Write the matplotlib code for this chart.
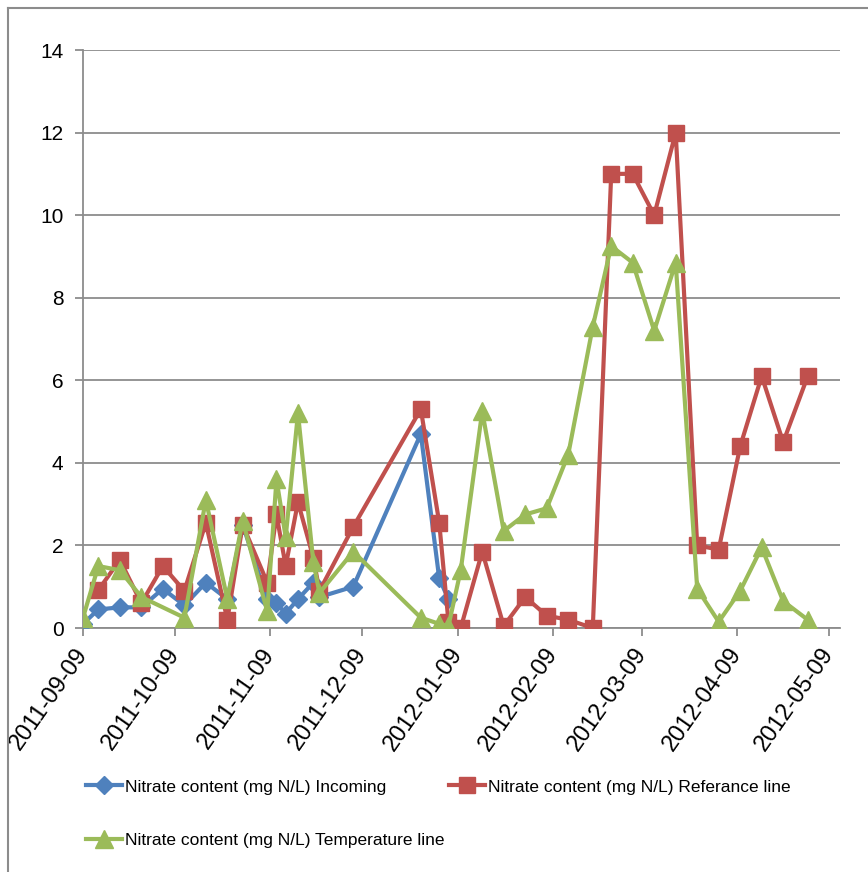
import matplotlib
matplotlib.use("Agg")
import matplotlib.pyplot as plt
import matplotlib.dates as mdates
from matplotlib.lines import Line2D
import numpy as np
import pandas as pd

plt.rcParams["font.family"] = ["Liberation Sans", "DejaVu Sans"]

# sampling dates
dates = pd.to_datetime([
    "2011-09-09", "2011-09-14", "2011-09-21", "2011-09-28", "2011-10-05", "2011-10-12",
    "2011-10-19", "2011-10-26", "2011-10-31", "2011-11-08", "2011-11-11", "2011-11-14",
    "2011-11-18", "2011-11-23", "2011-11-25", "2011-12-06", "2011-12-28", "2012-01-03",
    "2012-01-06", "2012-01-10", "2012-01-17", "2012-01-24", "2012-01-31", "2012-02-07",
    "2012-02-14", "2012-02-22", "2012-02-28", "2012-03-06", "2012-03-13", "2012-03-20",
    "2012-03-27", "2012-04-03", "2012-04-10", "2012-04-17", "2012-04-24", "2012-05-02",
])

nan = np.nan
incoming = [0.1, 0.45, 0.5, 0.5, 0.95, 0.55, 1.1, 0.7, 2.5, 0.7, 0.6, 0.35,
            0.7, 1.1, 0.75, 1.0, 4.7, 1.2, 0.7, nan, nan, nan, nan, nan,
            nan, nan, nan, nan, nan, nan, nan, nan, nan, nan, nan, nan]
reference = [nan, 0.92, 1.65, 0.6, 1.5, 0.9, 2.55, 0.2, 2.5, 1.1, 2.75, 1.5,
             3.05, 1.7, 0.9, 2.45, 5.3, 2.55, 0.15, 0.0, 1.85, 0.05, 0.75, 0.3,
             0.2, 0.0, 11.0, 11.0, 10.0, 12.0, 2.0, 1.9, 4.4, 6.1, 4.5, 6.1]
temperature = [0.25, 1.5, 1.4, 0.75, nan, 0.25, 3.1, 0.7, 2.6, 0.4, 3.6, 2.2,
               5.2, 1.6, 0.85, 1.85, 0.25, 0.1, 0.05, 1.4, 5.25, 2.35, 2.75, 2.9,
               4.2, 7.3, 9.25, 8.85, 7.2, 8.85, 0.95, 0.15, 0.9, 1.95, 0.65, 0.2]

tick_dates = pd.to_datetime(["2011-09-09", "2011-10-09", "2011-11-09", "2011-12-09", "2012-01-09",
                             "2012-02-09", "2012-03-09", "2012-04-09", "2012-05-09"])

labels = ["Nitrate content (mg N/L) Incoming",
          "Nitrate content (mg N/L) Referance line",
          "Nitrate content (mg N/L) Temperature line"]
colors = ["#4F81BD", "#C0504D", "#9BBB59"]

fig = plt.figure(figsize=(8.68, 8.72), dpi=100)
ax = fig.add_axes([83 / 868, 1 - 628 / 872, (840 - 83) / 868, (628 - 50) / 872])

# series stay connected across missing samples
def connected(vals):
    s = pd.Series(vals, index=dates).dropna()
    return s.index, s.values

x, y = connected(incoming)
l1, = ax.plot(x, y, color=colors[0], lw=3, marker="D", ms=9, zorder=3)
x, y = connected(reference)
l2, = ax.plot(x, y, color=colors[1], lw=3, marker="s", ms=11, zorder=4)
x, y = connected(temperature)
l3, = ax.plot(x, y, color=colors[2], lw=3, marker="^", ms=13, zorder=5)

start = mdates.date2num(pd.Timestamp("2011-09-09"))
ax.set_xlim(start, start + 246.5)
ax.set_ylim(0, 14)
ax.set_yticks(range(0, 15, 2))

ax.set_xticks(tick_dates)
ax.xaxis.set_major_formatter(mdates.DateFormatter("%Y-%m-%d"))

ax.grid(axis="y", color="#8c8c8c", lw=1.3)
ax.set_axisbelow(True)
for s in ["top", "right"]:
    ax.spines[s].set_visible(False)
for s in ["left", "bottom"]:
    ax.spines[s].set_color("#8c8c8c")
    ax.spines[s].set_linewidth(1.3)
ax.tick_params(axis="both", colors="#8c8c8c", length=6, width=1.3, labelcolor="black")
ax.tick_params(axis="y", pad=8, labelsize=15)
ax.tick_params(axis="x", pad=10, labelsize=17)
for t in ax.get_xticklabels():
    t.set_rotation(55)
    t.set_ha("right")
    t.set_va("center")
    t.set_rotation_mode("anchor")

leg_kw = dict(loc="center left", frameon=False, fontsize=12.5, handlelength=2.1,
              handletextpad=0.15, borderaxespad=0, borderpad=0)
fig.legend([l1, l2], labels[:2], ncol=2, columnspacing=3.6,
           bbox_to_anchor=(86 / 868, 1 - 787 / 872), **leg_kw)
fig.legend([l3], labels[2:], bbox_to_anchor=(86 / 868, 1 - 840 / 872), **leg_kw)

# chart frame along the top and left edges
fig.add_artist(Line2D([8 / 868, 1], [1 - 8 / 872, 1 - 8 / 872], color="#8c8c8c", lw=1.5))
fig.add_artist(Line2D([8 / 868, 8 / 868], [0, 1 - 8 / 872], color="#8c8c8c", lw=1.5))

fig.savefig("out.png", dpi=100)
